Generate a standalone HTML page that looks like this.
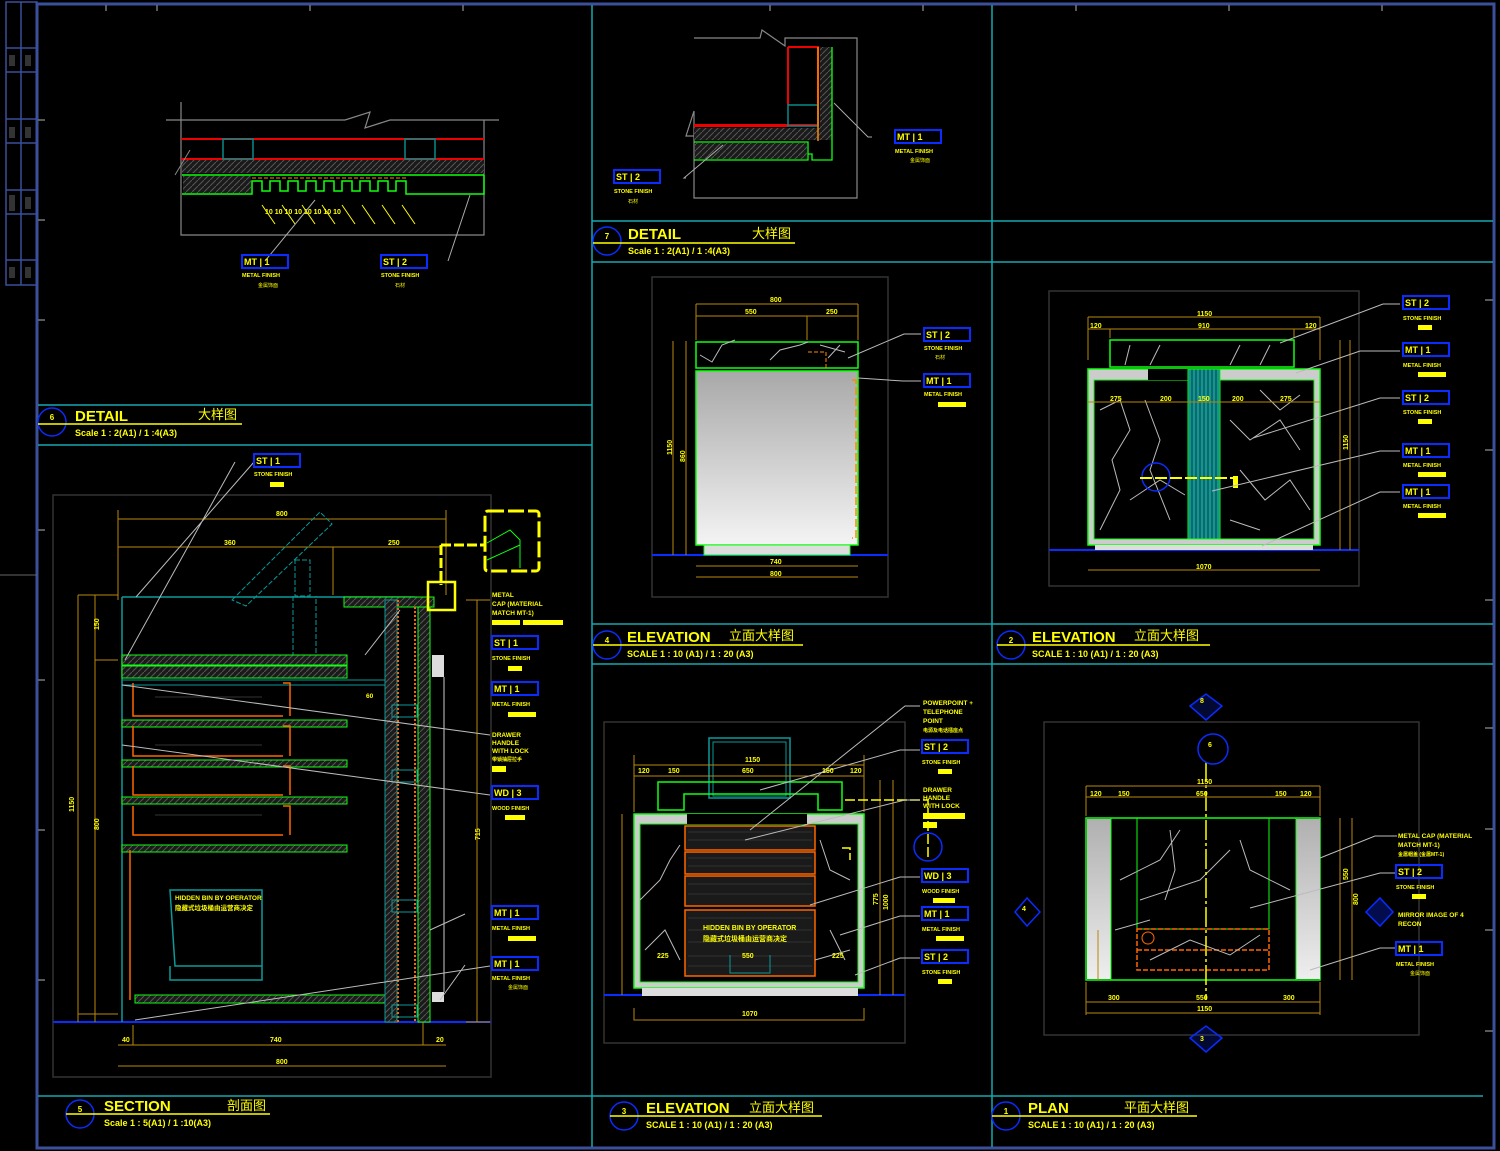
<!DOCTYPE html>
<html><head><meta charset="utf-8"><style>
html,body{margin:0;padding:0;background:#000;}
svg{display:block;font-family:"Liberation Sans","Noto Sans CJK SC",sans-serif;}
.y{fill:#ffff00;font-weight:bold}
</style></head><body>
<svg width="1500" height="1151" viewBox="0 0 1500 1151" xmlns="http://www.w3.org/2000/svg">
<defs>
<linearGradient id="gr" x1="0" y1="0" x2="0" y2="1"><stop offset="0" stop-color="#a8a8a8"/><stop offset="1" stop-color="#f4f4f4"/></linearGradient>
<linearGradient id="gv" x1="0" y1="0" x2="0" y2="1"><stop offset="0" stop-color="#b0b0b0"/><stop offset="1" stop-color="#eeeeee"/></linearGradient>
<pattern id="vs" width="4" height="10" patternUnits="userSpaceOnUse"><rect width="4" height="10" fill="#0b6b6b"/><line x1="2" y1="0" x2="2" y2="10" stroke="#2bb" stroke-width="1"/></pattern>
<pattern id="ht" width="6" height="6" patternUnits="userSpaceOnUse"><rect width="6" height="6" fill="#1a1a1a"/><path d="M0 6L6 0" stroke="#555" stroke-width="1"/></pattern>
</defs>
<rect width="1500" height="1151" fill="#000"/>
<!-- left strip -->
<g stroke="#3b4f9a" stroke-width="1.5" fill="none">
<rect x="6" y="2" width="31" height="283"/>
<line x1="21" y1="2" x2="21" y2="285"/>
<line x1="6" y1="48" x2="37" y2="48"/><line x1="6" y1="72" x2="37" y2="72"/>
<line x1="6" y1="119" x2="37" y2="119"/><line x1="6" y1="143" x2="37" y2="143"/>
<line x1="6" y1="190" x2="37" y2="190"/><line x1="6" y1="214" x2="37" y2="214"/>
<line x1="6" y1="260" x2="37" y2="260"/>
</g>
<g fill="#333"><rect x="9" y="55" width="6" height="11"/><rect x="25" y="55" width="6" height="11"/><rect x="9" y="127" width="6" height="11"/><rect x="25" y="127" width="6" height="11"/><rect x="9" y="195" width="6" height="16"/><rect x="25" y="197" width="6" height="12"/><rect x="9" y="267" width="6" height="11"/><rect x="25" y="267" width="6" height="11"/></g>
<!-- outer border -->
<rect x="37" y="4" width="1457" height="1144" fill="none" stroke="#3b4f9a" stroke-width="3"/>
<line x1="0" y1="575" x2="37" y2="575" stroke="#666"/>
<!-- cyan frame lines -->
<g stroke="#17a8b0" stroke-width="1.5">
<line x1="592" y1="5" x2="592" y2="1147"/><line x1="992" y1="5" x2="992" y2="1147"/>
<line x1="592" y1="221" x2="1493" y2="221"/><line x1="592" y1="262" x2="1493" y2="262"/>
<line x1="38" y1="405" x2="592" y2="405"/><line x1="38" y1="445" x2="592" y2="445"/>
<line x1="592" y1="624" x2="1493" y2="624"/><line x1="592" y1="664" x2="1493" y2="664"/>
<line x1="38" y1="1096" x2="1483" y2="1096"/>
</g>
<!-- ticks -->
<g stroke="#777" stroke-width="1.5">
<line x1="106" y1="5" x2="106" y2="11"/><line x1="157" y1="5" x2="157" y2="11"/><line x1="310" y1="5" x2="310" y2="11"/><line x1="463" y1="5" x2="463" y2="11"/><line x1="770" y1="5" x2="770" y2="11"/><line x1="923" y1="5" x2="923" y2="11"/><line x1="1076" y1="5" x2="1076" y2="11"/><line x1="1229" y1="5" x2="1229" y2="11"/><line x1="1382" y1="5" x2="1382" y2="11"/>
<line x1="38" y1="120" x2="45" y2="120"/><line x1="38" y1="220" x2="45" y2="220"/><line x1="38" y1="320" x2="45" y2="320"/><line x1="38" y1="530" x2="45" y2="530"/><line x1="38" y1="680" x2="45" y2="680"/><line x1="38" y1="830" x2="45" y2="830"/><line x1="38" y1="980" x2="45" y2="980"/>
<line x1="1485" y1="300" x2="1493" y2="300"/><line x1="1485" y1="450" x2="1493" y2="450"/><line x1="1485" y1="600" x2="1493" y2="600"/><line x1="1485" y1="728" x2="1493" y2="728"/><line x1="1485" y1="829" x2="1493" y2="829"/><line x1="1485" y1="930" x2="1493" y2="930"/><line x1="1485" y1="1031" x2="1493" y2="1031"/>
</g>

<!-- ===== TITLES ===== -->
<g>
<g stroke="#0a2cff" stroke-width="1.5" fill="none">
<circle cx="52" cy="422" r="14"/><circle cx="607" cy="241" r="14"/><circle cx="607" cy="645" r="14"/><circle cx="1011" cy="645" r="14"/><circle cx="80" cy="1114" r="14"/><circle cx="624" cy="1116" r="14"/><circle cx="1006" cy="1116" r="14"/>
</g>
<g stroke="#ffff00" stroke-width="1.5">
<line x1="38" y1="424" x2="242" y2="424"/><line x1="593" y1="243" x2="795" y2="243"/><line x1="593" y1="645" x2="803" y2="645"/><line x1="997" y1="645" x2="1210" y2="645"/><line x1="66" y1="1114" x2="270" y2="1114"/><line x1="610" y1="1116" x2="822" y2="1116"/><line x1="992" y1="1116" x2="1197" y2="1116"/>
</g>
<g class="y" font-size="15">
<text x="75" y="421">DETAIL</text><text x="628" y="239">DETAIL</text><text x="627" y="642">ELEVATION</text><text x="1032" y="642">ELEVATION</text><text x="104" y="1111">SECTION</text><text x="646" y="1113">ELEVATION</text><text x="1028" y="1113">PLAN</text>
</g>
<g fill="#ffff00" font-size="13">
<text x="198" y="419">大样图</text><text x="752" y="238">大样图</text><text x="729" y="640">立面大样图</text><text x="1134" y="640">立面大样图</text><text x="227" y="1110">剖面图</text><text x="749" y="1112">立面大样图</text><text x="1124" y="1112">平面大样图</text>
</g>
<g class="y" font-size="9">
<text x="75" y="436">Scale  1 : 2(A1) / 1 :4(A3)</text><text x="628" y="254">Scale  1 : 2(A1) / 1 :4(A3)</text><text x="627" y="657">SCALE 1 : 10 (A1) / 1 : 20 (A3)</text><text x="1032" y="657">SCALE 1 : 10 (A1) / 1 : 20 (A3)</text><text x="104" y="1126">Scale  1 : 5(A1) / 1 :10(A3)</text><text x="646" y="1128">SCALE 1 : 10 (A1) / 1 : 20 (A3)</text><text x="1028" y="1128">SCALE 1 : 10 (A1) / 1 : 20 (A3)</text>
</g>
<g class="y" font-size="8" text-anchor="middle">
<text x="52" y="420">6</text><text x="607" y="239">7</text><text x="607" y="643">4</text><text x="1011" y="643">2</text><text x="80" y="1112">5</text><text x="624" y="1114">3</text><text x="1006" y="1114">1</text>
</g>
</g>

<!-- ===== DETAIL 6 (top-left) ===== -->
<g fill="none">
<path d="M181 102V235H484V120" stroke="#888" stroke-width="1.2"/>
<path d="M166 120H345L370 112L365 128L390 120H499" stroke="#888" stroke-width="1.2"/>
<line x1="181" y1="139" x2="484" y2="139" stroke="#e00" stroke-width="2"/>
<line x1="181" y1="159" x2="484" y2="159" stroke="#e00" stroke-width="2"/>
<rect x="223" y="139" width="30" height="20" stroke="#0a8a8a" stroke-width="1.5"/><rect x="405" y="139" width="30" height="20" stroke="#0a8a8a" stroke-width="1.5"/>
<rect x="182" y="160" width="302" height="13" fill="url(#ht)"/>
<path d="M175 175L190 150" stroke="#888"/>
<path d="M182 175H484M182 194H252V181H262V191H270V181H280V191H288V181H298V191H306V181H316V191H324V181H334V191H342V181H352V191H360V181H370V191H378V181H388V191H396V181H406V194H484V175" stroke="#1f1" stroke-width="1.5"/>
<line x1="252" y1="178" x2="406" y2="178" stroke="#f80" stroke-dasharray="4 2"/>
<rect x="183" y="176" width="68" height="17" fill="url(#ht)"/>
<g stroke="#ff0" stroke-width="1"><path d="M262 205L275 224M282 205L295 224M302 205L315 224M322 205L335 224M342 205L355 224M362 205L375 224M382 205L395 224M402 205L415 224"/></g>
<path d="M265 261L315 200M448 261L470 195" stroke="#aaa"/>
</g>
<g class="y" font-size="7"><text x="265" y="214">10 10 10 10 10 10 10 10</text></g>

<!-- ===== DETAIL 7 (top-middle) ===== -->
<g fill="none">
<path d="M694 38H760L762 30L785 46V38H857V198H694V111L686 136L694 136" stroke="#888" stroke-width="1.2"/>
<path d="M788 47H818V125H694M788 47V105M694 126H788" stroke="#e00" stroke-width="2"/>
<rect x="788" y="105" width="30" height="21" stroke="#0a8a8a" stroke-width="1.5"/>
<rect x="694" y="128" width="127" height="12" fill="url(#ht)"/>
<line x1="818" y1="47" x2="818" y2="141" stroke="#f80" stroke-width="1.5"/>
<rect x="820" y="47" width="12" height="93" fill="url(#ht)"/>
<path d="M694 142H808V160H694M808 160V154H812V160H832V47" stroke="#1f1" stroke-width="1.3"/>
<rect x="695" y="143" width="112" height="16" fill="url(#ht)"/>
<path d="M686 178H684L723 145M872 137H868L834 103" stroke="#aaa"/>
</g>

<!-- ===== SECTION 5 ===== -->
<g fill="none">
<rect x="53" y="495" width="438" height="582" stroke="#333" stroke-width="1.5"/>
<line x1="53" y1="1022" x2="491" y2="1022" stroke="#0a2cff" stroke-width="2"/>
<g stroke="#b8860b" stroke-width="1">
<path d="M118 519H446M118 547H440M118 510V600M446 510V595M333 547V595M78 595V1022M95 595V1022M78 595H118M118 660H95M118 1014H78M423 1022V1045M133 1045V1025M118 1045H446M118 1066H446M477 600V1022M466 600H490M466 1022H490"/>
</g>
<g class="y" font-size="7"><text x="276" y="516">800</text><text x="224" y="545">360</text><text x="388" y="545">250</text><text x="270" y="1042">740</text><text x="276" y="1064">800</text><text x="122" y="1042">40</text><text x="436" y="1042">20</text><text transform="translate(74 812) rotate(-90)">1150</text><text transform="translate(99 830) rotate(-90)">800</text><text transform="translate(99 630) rotate(-90)">150</text><text transform="translate(480 840) rotate(-90)">715</text></g>
<path d="M122 597H415" stroke="#0a9a9a" stroke-width="1.5"/>
<path d="M122 597V1022" stroke="#0a9a9a" stroke-width="1.5"/>
<path d="M232 600L320 512L332 524L246 606Z" stroke="#0a9a9a" stroke-dasharray="5 2"/>
<path d="M295 560H310V596H295ZM293 596V655H316V596" stroke="#0a9a9a" stroke-dasharray="5 2"/>
<rect x="344" y="597" width="90" height="10" stroke="#1f1" fill="url(#ht)"/>
<rect x="122" y="655" width="225" height="10" stroke="#1f1" fill="url(#ht)"/>
<rect x="122" y="666" width="225" height="12" stroke="#1f1" fill="url(#ht)"/>
<rect x="122" y="680" width="263" height="5" stroke="#0a9a9a"/>
<rect x="122" y="720" width="225" height="7" stroke="#1f1" fill="url(#ht)"/>
<rect x="122" y="760" width="225" height="7" stroke="#1f1" fill="url(#ht)"/>
<rect x="122" y="797" width="225" height="7" stroke="#1f1" fill="url(#ht)"/>
<rect x="122" y="845" width="225" height="7" stroke="#1f1" fill="url(#ht)"/>
<rect x="135" y="995" width="250" height="8" stroke="#1f1" fill="url(#ht)"/>
<g stroke="#f60" stroke-width="1.5"><path d="M133 683V716H283M283 683H290V716M133 726V756H283M283 726H290V756M133 766V795H283M283 766H290V795"/><path d="M133 806V835H283M283 806H290V835"/><path d="M130 850V1000"/></g>
<g stroke="#333"><line x1="155" y1="697" x2="262" y2="697"/><line x1="155" y1="745" x2="262" y2="745"/><line x1="155" y1="815" x2="262" y2="815"/></g>
<path d="M170 890H262V966H175ZM170 966V980H262V966" stroke="#0a9a9a" stroke-width="1.5"/>
<rect x="385" y="600" width="12" height="422" fill="url(#ht)" stroke="#0a9a9a"/>
<line x1="398" y1="600" x2="398" y2="1022" stroke="#f60" stroke-dasharray="2 2" stroke-width="2"/>
<line x1="415" y1="607" x2="415" y2="1022" stroke="#f60" stroke-dasharray="2 2" stroke-width="2"/>
<rect x="418" y="607" width="12" height="415" fill="url(#ht)" stroke="#1f1"/>
<rect x="432" y="655" width="12" height="22" fill="#ddd"/><rect x="432" y="992" width="12" height="10" fill="#ddd"/>
<line x1="444" y1="677" x2="444" y2="992" stroke="#ccc"/>
<g stroke="#0a9a9a"><rect x="392" y="705" width="25" height="12"/><rect x="392" y="770" width="25" height="12"/><rect x="392" y="900" width="25" height="12"/><rect x="392" y="1005" width="25" height="12"/></g>
<path d="M441 545H484M441 545V585" stroke="#ff0" stroke-width="3" stroke-dasharray="10 3"/>
<rect x="485" y="511" width="54" height="60" rx="3" stroke="#ff0" stroke-width="3" stroke-dasharray="16 4"/>
<path d="M487 543L510 530L520 540V568M487 560L520 545" stroke="#1f1"/>
<rect x="428" y="582" width="27" height="28" stroke="#ff0" stroke-width="2.5"/>
<path d="M254 462L136 597M235 462L125 660M400 610L365 655M122 685L490 735M122 745L490 795M430 930L465 914M440 1000L465 965M135 1020L490 966" stroke="#bbb"/>
</g>
<g class="y" font-size="6.5"><text x="175" y="900">HIDDEN BIN BY OPERATOR</text><text x="175" y="910">隐藏式垃圾桶由运营商决定</text><text x="366" y="698">60</text></g>

<!-- ===== ELEVATION 4 ===== -->
<g fill="none">
<rect x="652" y="277" width="236" height="320" stroke="#333" stroke-width="1.5"/>
<line x1="652" y1="555" x2="888" y2="555" stroke="#0a2cff" stroke-width="2"/>
<rect x="696" y="342" width="162" height="26" stroke="#1f1" stroke-width="1.5"/>
<path d="M700 355L712 362L722 345L735 340M770 360L780 350L800 345L808 342M820 345L845 352M828 358L840 345" stroke="#bbb"/>
<rect x="696" y="371" width="162" height="174" fill="url(#gr)" stroke="#1f1" stroke-width="1.5"/>
<rect x="704" y="545" width="146" height="10" fill="#ddd" stroke="#1f1"/>
<path d="M852 380H856V538H852" stroke="#f80" stroke-width="1.5" stroke-dasharray="8 3"/>
<path d="M808 352H826V368" stroke="#f80" stroke-dasharray="4 2"/>
<g stroke="#b8860b"><path d="M696 304H858M696 316H858M696 304V340M858 304V340M807 316V340M673 341V555M686 341V555M696 566H858M696 577H858"/></g>
<path d="M848 358L904 334H921M858 378L903 381H921" stroke="#bbb"/>
</g>
<g class="y" font-size="7"><text x="770" y="302">800</text><text x="745" y="314">550</text><text x="826" y="314">250</text><text x="770" y="564">740</text><text x="770" y="576">800</text><text transform="translate(672 455) rotate(-90)">1150</text><text transform="translate(685 462) rotate(-90)">860</text></g>

<!-- ===== ELEVATION 2 ===== -->
<g fill="none">
<rect x="1049" y="291" width="310" height="295" stroke="#333" stroke-width="1.5"/>
<line x1="1049" y1="550" x2="1359" y2="550" stroke="#0a2cff" stroke-width="2"/>
<rect x="1110" y="340" width="184" height="27" stroke="#1f1" stroke-width="1.5"/>
<rect x="1088" y="369" width="232" height="176" fill="#ccc" stroke="#1f1" stroke-width="1.5"/>
<rect x="1094" y="380" width="220" height="159" fill="#000" stroke="#1f1"/>
<rect x="1148" y="369" width="70" height="11" fill="#000"/>
<rect x="1188" y="369" width="32" height="170" fill="url(#vs)" stroke="#1f1"/>
<rect x="1095" y="545" width="218" height="5" fill="#ddd"/>
<path d="M1100 410L1120 400L1130 430L1112 460L1120 490L1100 530M1130 500L1160 480L1185 495M1145 400L1160 440L1150 470L1170 520M1230 420L1250 440L1280 420L1300 450M1240 470L1265 500L1290 480L1310 510M1230 520L1260 530M1260 390L1280 410L1300 395M1130 345L1125 365M1160 345L1150 365M1240 345L1230 365M1270 345L1260 365" stroke="#bbb"/>
<circle cx="1156" cy="477" r="14" stroke="#0a2cff" stroke-width="1.5"/>
<path d="M1140 478H1235" stroke="#ff0" stroke-width="2" stroke-dasharray="12 3"/><rect x="1233" y="476" width="5" height="12" fill="#ff0"/>
<g stroke="#b8860b"><path d="M1088 317H1320M1088 329H1320M1088 317V360M1320 317V360M1110 329V338M1294 329V338M1088 402H1320M1340 340V550M1350 340V550M1088 570H1320"/></g>
<path d="M1280 343L1383 304H1400M1296 373L1360 351H1400M1253 438L1380 398H1400M1212 491L1380 451H1400M1262 546L1380 492H1400" stroke="#bbb"/>
</g>
<g class="y" font-size="7"><text x="1197" y="316">1150</text><text x="1090" y="328">120</text><text x="1198" y="328">910</text><text x="1305" y="328">120</text><text x="1110" y="401">275</text><text x="1160" y="401">200</text><text x="1198" y="401">150</text><text x="1232" y="401">200</text><text x="1280" y="401">275</text><text x="1196" y="569">1070</text><text transform="translate(1348 450) rotate(-90)">1150</text></g>

<!-- ===== ELEVATION 1 ===== -->
<g fill="none">
<rect x="604" y="722" width="301" height="321" stroke="#333" stroke-width="1.5"/>
<line x1="604" y1="995" x2="905" y2="995" stroke="#0a2cff" stroke-width="2"/>
<rect x="709" y="738" width="81" height="60" stroke="#0a9a9a" stroke-width="1.5"/><rect x="713" y="742" width="73" height="54" stroke="#0a9a9a"/>
<path d="M658 782H842V810H818V794H684V810H658Z" stroke="#1f1" stroke-width="1.5"/>
<rect x="634" y="814" width="230" height="174" fill="#ccc" stroke="#1f1" stroke-width="1.5"/>
<rect x="640" y="824" width="218" height="158" fill="#000" stroke="#1f1"/>
<rect x="687" y="814" width="120" height="10" fill="#000"/>
<rect x="642" y="988" width="216" height="8" fill="#ddd"/>
<g stroke="#f60" stroke-width="1.5" fill="#1a1a1a"><rect x="685" y="826" width="130" height="24"/><rect x="685" y="852" width="130" height="22"/><rect x="685" y="876" width="130" height="30"/><rect x="685" y="910" width="130" height="66"/></g>
<g stroke="#333"><path d="M688 832H812M688 840H812M688 858H812M688 866H812M688 884H812M688 894H812M688 918H812M688 930H812M688 942H812M688 956H812M688 966H812"/></g>
<path d="M640 900L660 880L670 860L680 845M645 950L665 930L680 960M820 840L830 870L850 880M830 930L845 960M815 960L850 950" stroke="#bbb"/>
<path d="M730 955V973H770V955" stroke="#0a9a9a"/>
<g stroke="#b8860b"><path d="M634 765H864M634 776H864M634 755V812M864 755V812M634 1008V1020H864V1008M622 814V995M880 780V995M893 780V995"/></g>
<path d="M845 800H928V860M842 848H850V860" stroke="#ff0" stroke-width="1.5" stroke-dasharray="10 3"/>
<circle cx="928" cy="847" r="14" stroke="#0a2cff" stroke-width="1.5"/>
<path d="M750 830L905 706H920M760 790L900 750H920M745 840L905 800H920M810 905L900 877H920M840 935L900 916H920M855 975L900 958H920" stroke="#bbb"/>
</g>
<g class="y" font-size="7"><text x="745" y="762">1150</text><text x="742" y="773">650</text><text x="638" y="773">120</text><text x="668" y="773">150</text><text x="822" y="773">150</text><text x="850" y="773">120</text><text x="742" y="1016">1070</text><text x="657" y="958">225</text><text x="742" y="958">550</text><text x="832" y="958">225</text><text x="703" y="930">HIDDEN BIN BY OPERATOR</text><text x="703" y="941">隐藏式垃圾桶由运营商决定</text><text transform="translate(888 910) rotate(-90)">1000</text><text transform="translate(878 905) rotate(-90)">775</text></g>

<!-- ===== PLAN 1 ===== -->
<g fill="none">
<rect x="1044" y="722" width="375" height="313" stroke="#333" stroke-width="1.5"/>
<rect x="1086" y="818" width="234" height="162" stroke="#1f1" stroke-width="1.5"/>
<rect x="1087" y="819" width="24" height="160" fill="url(#gv)"/><rect x="1296" y="819" width="24" height="160" fill="url(#gv)"/>
<line x1="1111" y1="818" x2="1111" y2="980" stroke="#1f1"/><line x1="1296" y1="818" x2="1296" y2="980" stroke="#1f1"/>
<rect x="1137" y="818" width="132" height="111" stroke="#1f1"/>
<path d="M1137 929H1269V970H1137Z M1137 950H1269" stroke="#f60" stroke-dasharray="5 2" stroke-width="1.5"/>
<path d="M1120 880L1160 860L1180 830M1140 900L1200 880L1230 850M1150 960L1190 940L1230 955L1260 935M1240 840L1250 870L1290 890M1115 930L1150 920M1170 830L1175 870L1165 900" stroke="#bbb"/>
<circle cx="1148" cy="938" r="6" stroke="#f60"/>
<line x1="1206" y1="762" x2="1206" y2="1000" stroke="#ff0" stroke-width="1.5" stroke-dasharray="20 3 3 3"/>
<g stroke="#b8860b"><path d="M1086 786H1320M1086 797H1320M1086 786V816M1320 786V816M1086 1002H1320M1086 1013H1320M1086 982V1015M1320 982V1015M1340 818V980M1352 818V980M1098 930V980"/></g>
<circle cx="1213" cy="749" r="15" stroke="#0a2cff" stroke-width="1.5"/>
<path d="M1190 706L1206 694L1222 706L1206 720Z" stroke="#0a2cff" stroke-width="1.5" fill="#0a2cff" fill-opacity=".2"/>
<path d="M1190 1038L1206 1026L1222 1038L1206 1052Z" stroke="#0a2cff" stroke-width="1.5" fill="#0a2cff" fill-opacity=".2"/>
<path d="M1015 912L1027 898L1040 912L1027 926Z" stroke="#0a2cff" stroke-width="1.5"/>
<path d="M1366 912L1380 898L1393 912L1380 926Z" stroke="#0a2cff" stroke-width="1.5" fill="#0a2cff" fill-opacity=".3"/>
<path d="M1320 858L1375 836H1397M1250 908L1380 873H1397M1310 970L1380 948H1397" stroke="#bbb"/>
</g>
<g class="y" font-size="7"><text x="1197" y="784">1150</text><text x="1090" y="796">120</text><text x="1118" y="796">150</text><text x="1196" y="796">650</text><text x="1275" y="796">150</text><text x="1300" y="796">120</text><text x="1108" y="1000">300</text><text x="1196" y="1000">550</text><text x="1283" y="1000">300</text><text x="1197" y="1011">1150</text><text x="1200" y="703">8</text><text x="1208" y="747">6</text><text x="1200" y="1041">3</text><text x="1022" y="911">4</text><text transform="translate(1348 880) rotate(-90)">550</text><text transform="translate(1358 905) rotate(-90)">800</text></g>
<g class="y" font-size="6.5">
<text x="1398" y="838">METAL CAP (MATERIAL</text><text x="1398" y="847">MATCH MT-1)</text><text x="1398" y="856" font-size="5">金属帽盖 (金属MT-1)</text>
<text x="1398" y="917">MIRROR IMAGE OF 4</text><text x="1398" y="926">RECON</text>
<text x="923" y="705">POWERPOINT +</text><text x="923" y="714">TELEPHONE</text><text x="923" y="723">POINT</text><text x="923" y="732" font-size="5">电源及电话插座点</text>
<text x="923" y="792">DRAWER</text><text x="923" y="800">HANDLE</text><text x="923" y="808">WITH LOCK</text>
<text x="492" y="597">METAL</text><text x="492" y="606">CAP (MATERIAL</text><text x="492" y="615">MATCH MT-1)</text>
<text x="492" y="737">DRAWER</text><text x="492" y="745">HANDLE</text><text x="492" y="753">WITH LOCK</text><text x="492" y="761" font-size="5">带锁抽屉拉手</text>
</g>
<g fill="#ff0"><rect x="923" y="813" width="42" height="6"/><rect x="923" y="822" width="14" height="6"/><rect x="492" y="620" width="28" height="5"/><rect x="523" y="620" width="40" height="5"/><rect x="492" y="766" width="14" height="6"/></g>

<!-- ===== TAGS ===== -->
<g fill="none" stroke="#0a2cff" stroke-width="2">
<rect x="242" y="255" width="46" height="13"/><rect x="381" y="255" width="46" height="13"/><rect x="614" y="170" width="46" height="13"/><rect x="895" y="130" width="46" height="13"/>
<rect x="254" y="454" width="46" height="13"/>
<rect x="924" y="328" width="46" height="13"/><rect x="924" y="374" width="46" height="13"/>
<rect x="1403" y="296" width="46" height="13"/><rect x="1403" y="343" width="46" height="13"/><rect x="1403" y="391" width="46" height="13"/><rect x="1403" y="444" width="46" height="13"/><rect x="1403" y="485" width="46" height="13"/>
<rect x="492" y="636" width="46" height="13"/><rect x="492" y="682" width="46" height="13"/><rect x="492" y="786" width="46" height="13"/><rect x="492" y="906" width="46" height="13"/><rect x="492" y="957" width="46" height="13"/>
<rect x="922" y="740" width="46" height="13"/><rect x="922" y="869" width="46" height="13"/><rect x="922" y="907" width="46" height="13"/><rect x="922" y="950" width="46" height="13"/>
<rect x="1396" y="865" width="46" height="13"/><rect x="1396" y="942" width="46" height="13"/>
</g>
<g class="y" font-size="9">
<text x="244" y="265">MT  |   1</text><text x="383" y="265">ST  |   2</text><text x="616" y="180">ST  |   2</text><text x="897" y="140">MT  |   1</text><text x="256" y="464">ST  |   1</text>
<text x="926" y="338">ST  |   2</text><text x="926" y="384">MT  |   1</text>
<text x="1405" y="306">ST  |   2</text><text x="1405" y="353">MT  |   1</text><text x="1405" y="401">ST  |   2</text><text x="1405" y="454">MT  |   1</text><text x="1405" y="495">MT  |   1</text>
<text x="494" y="646">ST  |   1</text><text x="494" y="692">MT  |   1</text><text x="494" y="796">WD  |   3</text><text x="494" y="916">MT  |   1</text><text x="494" y="967">MT  |   1</text>
<text x="924" y="750">ST  |   2</text><text x="924" y="879">WD  |   3</text><text x="924" y="917">MT  |   1</text><text x="924" y="960">ST  |   2</text>
<text x="1398" y="875">ST  |   2</text><text x="1398" y="952">MT  |   1</text>
</g>
<g class="y" font-size="5.5">
<text x="242" y="277">METAL FINISH</text><text x="381" y="277">STONE FINISH</text><text x="614" y="193">STONE FINISH</text><text x="895" y="153">METAL FINISH</text><text x="254" y="476">STONE FINISH</text>
<text x="924" y="350">STONE FINISH</text><text x="924" y="396">METAL FINISH</text>
<text x="1403" y="320">STONE FINISH</text><text x="1403" y="367">METAL FINISH</text><text x="1403" y="414">STONE FINISH</text><text x="1403" y="467">METAL FINISH</text><text x="1403" y="508">METAL FINISH</text>
<text x="492" y="660">STONE FINISH</text><text x="492" y="706">METAL FINISH</text><text x="492" y="810">WOOD FINISH</text><text x="492" y="930">METAL FINISH</text><text x="492" y="980">METAL FINISH</text>
<text x="922" y="764">STONE FINISH</text><text x="922" y="893">WOOD FINISH</text><text x="922" y="931">METAL FINISH</text><text x="922" y="974">STONE FINISH</text>
<text x="1396" y="889">STONE FINISH</text><text x="1396" y="966">METAL FINISH</text>
</g>
<g fill="#ff0">
<rect x="1418" y="325" width="14" height="5"/><rect x="1418" y="372" width="28" height="5"/><rect x="1418" y="419" width="14" height="5"/><rect x="1418" y="472" width="28" height="5"/><rect x="1418" y="513" width="28" height="5"/>
<rect x="938" y="402" width="28" height="5"/><rect x="270" y="482" width="14" height="5"/>
<rect x="508" y="666" width="14" height="5"/><rect x="508" y="712" width="28" height="5"/><rect x="505" y="815" width="20" height="5"/><rect x="508" y="936" width="28" height="5"/>
<rect x="938" y="769" width="14" height="5"/><rect x="933" y="898" width="22" height="5"/><rect x="936" y="936" width="28" height="5"/><rect x="938" y="979" width="14" height="5"/><rect x="1412" y="894" width="14" height="5"/>
</g>
<g fill="#ff0" font-size="5"><text x="258" y="287">金属饰面</text><text x="395" y="287">石材</text><text x="628" y="203">石材</text><text x="910" y="162">金属饰面</text><text x="935" y="359">石材</text><text x="508" y="989">金属饰面</text><text x="1410" y="975">金属饰面</text></g>
</svg>
</body></html>
